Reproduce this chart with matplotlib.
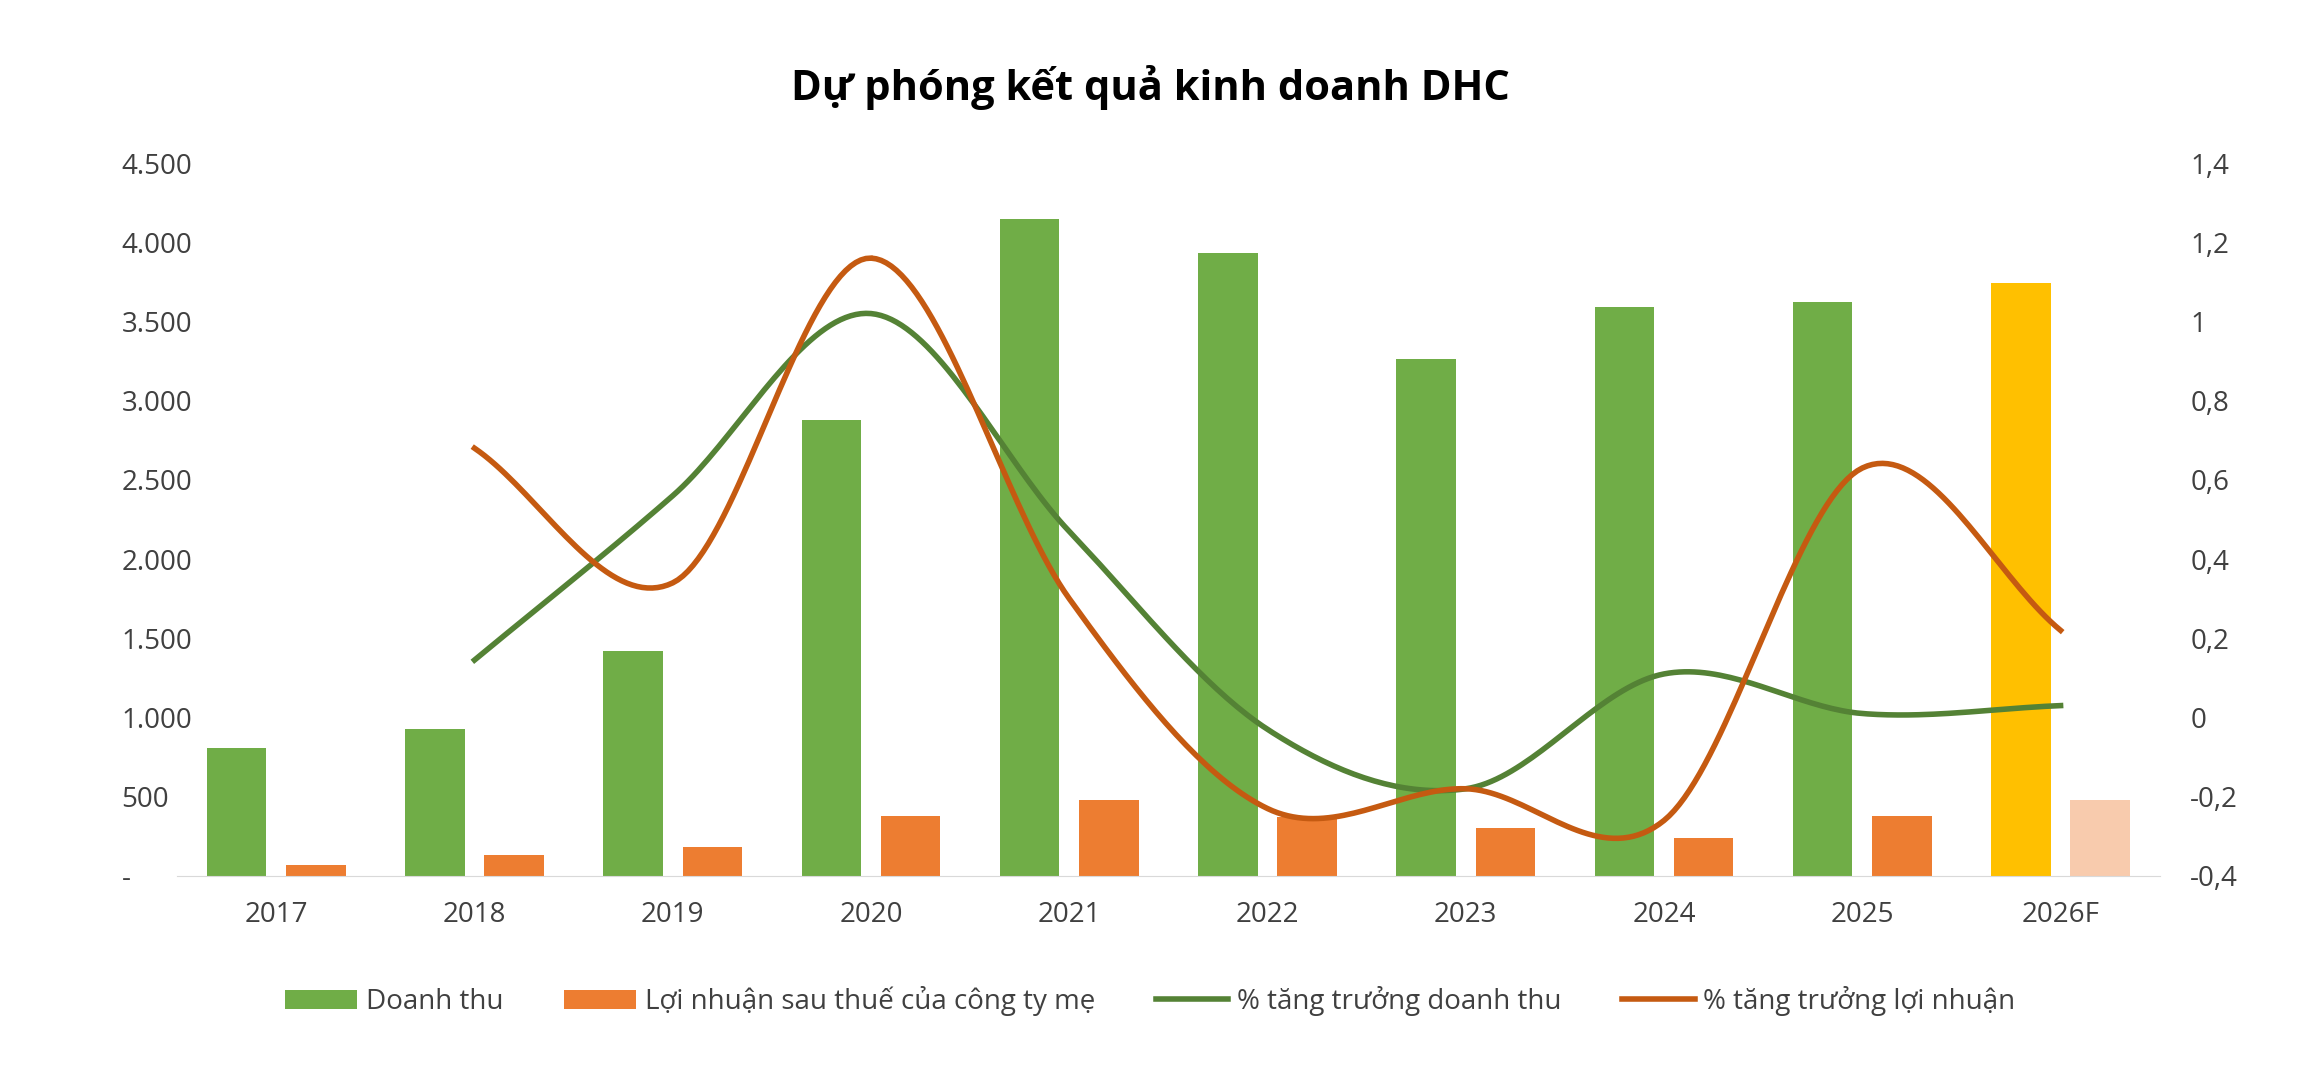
import numpy as np
import matplotlib
matplotlib.use("Agg")
import matplotlib.pyplot as plt
from matplotlib.ticker import FuncFormatter

years = ["2017","2018","2019","2020","2021","2022","2023","2024","2025","2026F"]
revenue = [810, 930, 1420, 2880, 4150, 3930, 3260, 3590, 3620, 3740]
profit = [70, 130, 180, 380, 480, 370, 300, 240, 380, 480]
rev_growth = [0.145, 0.56, 1.02, 0.47, -0.03, -0.18, 0.11, 0.01, 0.03]
prof_growth = [0.68, 0.34, 1.16, 0.30, -0.23, -0.18, -0.26, 0.63, 0.22]

plt.rcParams['font.family'] = ['Open Sans', 'DejaVu Sans']

def catmull(x, y, n=40):
    x = np.asarray(x, float); y = np.asarray(y, float)
    px = np.concatenate([[2*x[0]-x[1]], x, [2*x[-1]-x[-2]]])
    py = np.concatenate([[2*y[0]-y[1]], y, [2*y[-1]-y[-2]]])
    ox, oy = [], []
    t = np.linspace(0, 1, n)
    for i in range(1, len(px)-2):
        for arr, out in ((px, ox), (py, oy)):
            p0, p1, p2, p3 = arr[i-1], arr[i], arr[i+1], arr[i+2]
            out.extend(0.5*((2*p1) + (-p0+p2)*t + (2*p0-5*p1+4*p2-p3)*t**2 + (-p0+3*p1-3*p2+p3)*t**3))
    return np.array(ox), np.array(oy)

fig = plt.figure(figsize=(23, 10.8), dpi=100)
ax = fig.add_axes([0.077, 0.189, 0.862, 0.66])
x = np.arange(len(years))
w = 0.3
gc = ['#70AD47']*9 + ['#FFC000']
oc = ['#ED7D31']*9 + ['#F8CBAD']
ax.bar(x - 0.2, revenue, w, color=gc, label='Doanh thu', zorder=2)
ax.bar(x + 0.2, profit, w, color=oc, label='Lợi nhuận sau thuế của công ty mẹ', zorder=2)
ax.set_ylim(0, 4500)
ax.set_xlim(-0.5, 9.5)
ax.set_yticks(range(0, 4501, 500))
ax.yaxis.set_major_formatter(FuncFormatter(lambda v, p: '-' if v == 0 else f"{int(v):,}".replace(',', '.')))
ax.set_xticks(x)
ax.set_xticklabels(years)
for s in ['top', 'right', 'left']:
    ax.spines[s].set_visible(False)
ax.spines['bottom'].set_color('#D9D9D9')
ax.tick_params(length=0, labelsize=20, colors='#404040', pad=18)
ax.tick_params(axis='y', pad=40)
for lab in ax.get_yticklabels():
    lab.set_horizontalalignment('left')

ax2 = ax.twinx()
ax2.set_ylim(-0.4, 1.4)
ax2.set_yticks(np.arange(-0.4, 1.41, 0.2))
def ff(v, p):
    v = round(v, 1)
    if abs(v) < 1e-9:
        return '0'
    s = f"{v:.0f}" if abs(v - round(v)) < 1e-9 else f"{v:.1f}"
    return s.replace('.', ',')
ax2.yaxis.set_major_formatter(FuncFormatter(ff))
for s in ['top', 'right', 'left', 'bottom']:
    ax2.spines[s].set_visible(False)
ax2.tick_params(length=0, labelsize=20, colors='#404040', pad=22)
sx, sy = catmull(x[1:], rev_growth)
ax2.plot(sx, sy, color='#548235', lw=4, label='% tăng trưởng doanh thu')
sx, sy = catmull(x[1:], prof_growth)
ax2.plot(sx, sy, color='#C55A11', lw=4, label='% tăng trưởng lợi nhuận')

fig.suptitle('Dự phóng kết quả kinh doanh DHC', y=0.94, fontsize=30, fontweight='bold')
h1, l1 = ax.get_legend_handles_labels()
h2, l2 = ax2.get_legend_handles_labels()
fig.legend(h1 + h2, l1 + l2, loc='center', bbox_to_anchor=(0.5, 0.073), ncol=4,
           frameon=False, fontsize=20, handlelength=2.6, handletextpad=0.3,
           columnspacing=2.2, labelcolor='#404040')
fig.savefig('out.png', dpi=100)
